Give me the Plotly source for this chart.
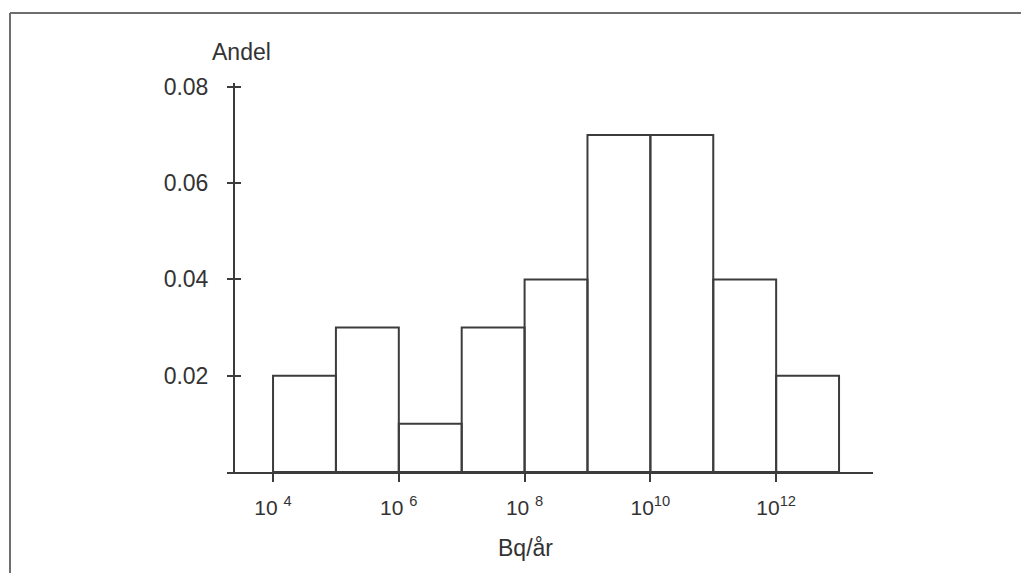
import plotly.graph_objects as go

# Histogram of annual release (Bq/år), one bin per decade
bin_start_exp = [4, 5, 6, 7, 8, 9, 10, 11, 12]
andel = [0.02, 0.03, 0.01, 0.03, 0.04, 0.07, 0.07, 0.04, 0.02]

x_tick_exp = [4, 6, 8, 10, 12]
y_tick_vals = [0.02, 0.04, 0.06, 0.08]
y_tick_text = ["0.02", "0.04", "0.06", "0.08"]

W, H = 1021, 573
LINE = "#3c3c3c"
TEXT = "#333333"
FONT = "Liberation Sans, Arial, Helvetica, sans-serif"
FS = 23

# Outline of each bin as a closed rectangle, joined with gaps
xs, ys = [], []
for e, v in zip(bin_start_exp, andel):
    lo, hi = 10.0 ** e, 10.0 ** (e + 1)
    xs += [lo, lo, hi, hi, lo, None]
    ys += [0, v, v, 0, 0, None]

fig = go.Figure()
fig.add_trace(go.Scatter(
    x=xs, y=ys, mode="lines",
    line=dict(color=LINE, width=2),
    hoverinfo="skip", showlegend=False,
))
# invisible trace on the overlay axis so it renders its ticks
fig.add_trace(go.Scatter(
    x=[10.0 ** bin_start_exp[0]], y=[0], yaxis="y2", mode="markers",
    marker=dict(opacity=0), hoverinfo="skip", showlegend=False,
))

x_dom = [227 / W, 873 / W]
y_dom = [(H - 472) / H, (H - 83) / H]
y_rng = [0, 0.0808]
y_pos = 234 / W

fig.update_layout(
    width=W, height=H,
    margin=dict(l=0, r=0, t=0, b=0, pad=0, autoexpand=False),
    paper_bgcolor="white", plot_bgcolor="white",
    font=dict(family=FONT, size=FS, color=TEXT),
    xaxis=dict(
        type="log", range=[3.268, 13.54], domain=x_dom,
        automargin=False,
        showgrid=False, zeroline=False,
        showline=True, linecolor=LINE, linewidth=2,
        ticks="outside", ticklen=8, tickwidth=2, tickcolor=LINE,
        tickvals=[10.0 ** e for e in x_tick_exp],
        ticktext=[f"10 <sup>{e}</sup>" if e < 10 else f"10<sup>{e}</sup>" for e in x_tick_exp],
        tickfont=dict(size=21, color=TEXT),
        ticklabelstandoff=8,
        anchor="y",
    ),
    yaxis=dict(
        range=y_rng, domain=y_dom,
        automargin=False,
        anchor="free", position=y_pos,
        showgrid=False, zeroline=False,
        showline=True, linecolor=LINE, linewidth=2,
        ticks="outside", ticklen=6, tickwidth=2, tickcolor=LINE,
        tickvals=y_tick_vals, ticktext=y_tick_text,
        tickfont=dict(size=FS, color=TEXT),
        ticklabelstandoff=14,
    ),
    yaxis2=dict(
        range=y_rng, domain=y_dom, overlaying="y",
        automargin=False,
        anchor="free", position=y_pos,
        showgrid=False, zeroline=False, showline=False,
        ticks="inside", ticklen=6, tickwidth=2, tickcolor=LINE,
        tickvals=y_tick_vals, showticklabels=False,
    ),
    annotations=[
        dict(text="Andel", x=241 / W, y=(H - 52) / H, xref="paper", yref="paper",
             showarrow=False, xanchor="center", yanchor="middle",
             font=dict(size=FS, color=TEXT)),
        dict(text="Bq/år", x=525 / W, y=(H - 548) / H, xref="paper", yref="paper",
             showarrow=False, xanchor="center", yanchor="middle",
             font=dict(size=FS, color=TEXT)),
    ],
    shapes=[
        # surrounding frame (open to the right and bottom edges)
        dict(type="line", xref="paper", yref="paper",
             x0=10 / W, x1=1.02, y0=(H - 13) / H, y1=(H - 13) / H,
             line=dict(color="#6e6e6e", width=2)),
        dict(type="line", xref="paper", yref="paper",
             x0=10 / W, x1=10 / W, y0=(H - 13) / H, y1=-0.02,
             line=dict(color="#6e6e6e", width=2)),
    ],
)

fig.write_html("out.html")
